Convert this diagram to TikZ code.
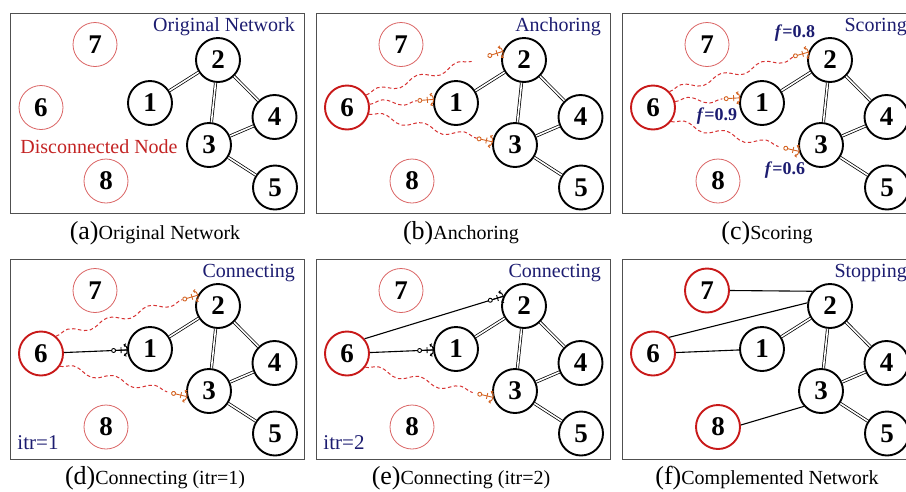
\documentclass[tikz,border=0pt]{standalone}
\usepackage{fontspec}
\setmainfont{Liberation Serif}
\usepackage{tikz}
\usetikzlibrary{arrows.meta, decorations.pathmorphing, decorations.markings}

\definecolor{navytext}{RGB}{28,28,112}
\definecolor{darkred}{RGB}{200,25,25}
\definecolor{palered}{RGB}{218,100,100}
\definecolor{notered}{RGB}{195,35,35}
\definecolor{wavyred}{RGB}{215,50,50}
\definecolor{anchorbrown}{RGB}{212,100,35}
\definecolor{framegray}{RGB}{80,80,80}

\newcommand{\anchorglyph}[1]{%
  \draw [#1, solid, line width=0.9pt]  (-11.5,0) -- (0,0);
  \draw [#1, solid, line width=0.9pt]  (-6,-3)   -- (-6,3);
  \draw [#1, solid, line width=0.9pt, {Straight Barb[length=1.6pt,width=3pt]}-{Straight Barb[length=1.6pt,width=3pt]}]
        (-3.5,-5.5) .. controls (1,-4) and (1,4) .. (-3.5,5.5);
  \draw [#1, solid, line width=0.9pt, fill=white] (-13.5,0) circle [radius=2pt];
}

\newcommand{\subfiglabel}[1]{{\fontsize{26}{26}\selectfont #1}}

\newcommand{\basenet}[1]{%
  \draw [frame]              (0,0) rectangle (294,200);
  \node [netnode] (#1-1) at (140,90)    {1};
  \node [netnode] (#1-2) at (208,47)    {2};
  \node [netnode] (#1-3) at (199,132)   {3};
  \node [netnode] (#1-4) at (264.5,104) {4};
  \node [netnode] (#1-5) at (265,174.5) {5};
  \draw [link]    (#1-1) -- (#1-2);
  \draw [link]    (#1-2) -- (#1-3);
  \draw [link]    (#1-2) -- (#1-4);
  \draw [link]    (#1-3) -- (#1-4);
  \draw [link]    (#1-3) -- (#1-5);
}

\tikzset{
  frame/.style={draw=framegray, line width=0.9pt},
  netnode/.style={circle, draw, line width=1.9pt, minimum size=44pt, inner sep=0pt,
                  font=\fontsize{27}{27}\selectfont\bfseries},
  isolated/.style={netnode, draw=palered, line width=0.8pt},
  chosen/.style={netnode, draw=darkred, line width=1.9pt},
  link/.style={double, line width=0.75pt, double distance=1.6pt},
  plainlink/.style={line width=1.1pt},
  wavylink/.style={preaction={draw=wavyred, line width=1pt, dash pattern=on 3.5pt off 2.5pt,
                   decorate, decoration={snake, amplitude=3.5pt, segment length=42pt,
                   post=moveto, post length=13pt}},
                   postaction={decorate, decoration={markings,
                   mark=at position 1 with {\anchorglyph{anchorbrown}}}}},
  solidlink/.style={preaction={draw, line width=1.1pt},
                    postaction={decorate, decoration={markings,
                    mark=at position 1 with {\anchorglyph{black}}}}},
  toplabel/.style={anchor=east, inner sep=0pt, text=navytext, font=\fontsize{20}{20}\selectfont},
  scorelabel/.style={text=navytext, inner sep=0pt, font=\fontsize{18}{18}\selectfont\bfseries},
  itrlabel/.style={text=navytext, inner sep=0pt, font=\fontsize{21}{21}\selectfont},
  notelabel/.style={text=notered, inner sep=0pt, font=\fontsize{20}{20}\selectfont},
  caption/.style={inner sep=0pt, font=\fontsize{20}{20}\selectfont}
}

\begin{document}
\begin{tikzpicture}[x=1pt, y=-1pt]

        \useasboundingbox (0,0) rectangle (906,491);

        %(a) Original network
        \begin{scope}[shift={(10,13)}]
        \basenet{a}
        \node [isolated] (a-6) at (31,94.5) {6};
        \node [isolated] (a-7) at (85,31.5) {7};
        \node [isolated] (a-8) at (96,168)  {8};
        \node [toplabel]  (a-title) at (285,14)  {Original Network};
        \node [notelabel] (a-note)  at (89,134)  {Disconnected Node};
        \node [caption]   (a-cap)   at (145,220) {\subfiglabel{(a)}Original Network};
        \end{scope}

        %(b) Anchoring
        \begin{scope}[shift={(316,13)}]
        \basenet{b}
        \node [chosen]   (b-6) at (31,94.5) {6};
        \node [isolated] (b-7) at (85,31.5) {7};
        \node [isolated] (b-8) at (96,168)  {8};
        \path [wavylink] (b-6.33)  -- (b-2.158);
        \path [wavylink] (b-6.8)   -- (b-1.171);
        \path [wavylink] (b-6.-17) -- (b-3.172);
        \node [toplabel] (b-title) at (285,14)  {Anchoring};
        \node [caption]  (b-cap)   at (145,220) {\subfiglabel{(b)}Anchoring};
        \end{scope}

        %(c) Scoring
        \begin{scope}[shift={(622,13)}]
        \basenet{c}
        \node [chosen]   (c-6) at (31,94.5) {6};
        \node [isolated] (c-7) at (85,31.5) {7};
        \node [isolated] (c-8) at (96,168)  {8};
        \path [wavylink] (c-6.44)  -- (c-2.160);
        \path [wavylink] (c-6.15)  -- (c-1.167);
        \path [wavylink] (c-6.-38) -- (c-3.196);
        \node [scorelabel] (c-f2) at (173,20)  {\textit{f}=0.8};
        \node [scorelabel] (c-f1) at (95,103)  {\textit{f}=0.9};
        \node [scorelabel] (c-f3) at (163,157) {\textit{f}=0.6};
        \node [toplabel] (c-title) at (285,14)  {Scoring};
        \node [caption]  (c-cap)   at (145,220) {\subfiglabel{(c)}Scoring};
        \end{scope}

        %(d) Connecting, first iteration
        \begin{scope}[shift={(10,259)}]
        \basenet{d}
        \node [chosen]   (d-6) at (31,94.5) {6};
        \node [isolated] (d-7) at (85,31.5) {7};
        \node [isolated] (d-8) at (96,168)  {8};
        \path [wavylink]  (d-6.49)  -- (d-2.152);
        \path [solidlink] (d-6)     -- (d-1);
        \path [wavylink]  (d-6.-34) -- (d-3.194);
        \node [itrlabel] (d-itr)   at (28,184)  {itr=1};
        \node [toplabel] (d-title) at (285,14)  {Connecting};
        \node [caption]  (d-cap)   at (145,219) {\subfiglabel{(d)}Connecting (itr=1)};
        \end{scope}

        %(e) Connecting, second iteration
        \begin{scope}[shift={(316,259)}]
        \basenet{e}
        \node [chosen]   (e-6) at (31,94.5) {6};
        \node [isolated] (e-7) at (85,31.5) {7};
        \node [isolated] (e-8) at (96,168)  {8};
        \path [solidlink] (e-6.40)  -- (e-2.155);
        \path [solidlink] (e-6)     -- (e-1);
        \path [wavylink]  (e-6.-37) -- (e-3.196);
        \node [itrlabel] (e-itr)   at (28,184)  {itr=2};
        \node [toplabel] (e-title) at (285,14)  {Connecting};
        \node [caption]  (e-cap)   at (145,219) {\subfiglabel{(e)}Connecting (itr=2)};
        \end{scope}

        %(f) Complemented network
        \begin{scope}[shift={(622,259)}]
        \basenet{f}
        \node [chosen] (f-6) at (31,94.5) {6};
        \node [chosen] (f-7) at (85,31.5) {7};
        \node [chosen] (f-8) at (96,168)  {8};
        \draw [plainlink] (f-7.east) -- (f-2.140);
        \draw [plainlink] (f-6.45)   -- (f-2.172);
        \draw [plainlink] (f-6)      -- (f-1);
        \draw [plainlink] (f-8.5)    -- (f-3.222);
        \node [toplabel] (f-title) at (285,14)  {Stopping};
        \node [caption]  (f-cap)   at (145,219) {\subfiglabel{(f)}Complemented Network};
        \end{scope}

\end{tikzpicture}
\end{document}
